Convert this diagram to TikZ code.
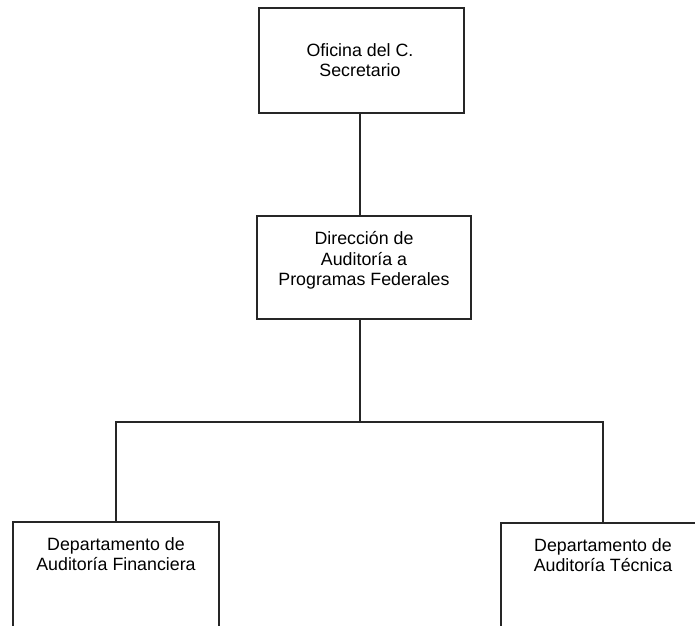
\documentclass[tikz,border=0pt]{standalone}
\usepackage{fontspec}
\setmainfont{Liberation Sans}
\usetikzlibrary{positioning}

\begin{document}
\begin{tikzpicture}[x=1pt, y=-1pt,
    unit/.style={draw=black!85, line width=1.4pt, inner sep=0pt},
    caption/.style={align=center, inner sep=0pt, anchor=north,
                    font=\fontsize{17.8}{20.8}\selectfont},
    link/.style={draw=black!85, line width=1.4pt}]
  \useasboundingbox (0,0) rectangle (695,625);
  \clip (0,0) rectangle (695,625);
  % boxes
  \node[unit, minimum width=205pt, minimum height=105pt] (sec) at (361.5,60.5) {};
  \node[unit, minimum width=214pt, minimum height=103pt] (dir) at (364,267.5) {};
  \node[unit, minimum width=206pt, minimum height=140pt] (dfin) at (116,592) {};
  \node[unit, minimum width=204pt, minimum height=140pt] (dtec) at (603,593) {};
  % texts
  \node[caption] (sec-txt) at (360,43) {Oficina del C.\\ Secretario};
  \node[caption] (dir-txt) at (364,231) {Dirección de\\ Auditoría a\\ Programas Federales};
  \node[caption] (dfin-txt) at (116,537) {Departamento de\\ Auditoría Financiera};
  \node[caption] (dtec-txt) at (603,538) {Departamento de\\ Auditoría Técnica};
  % connectors
  \coordinate (trunk) at (360,422);
  \draw[link] (sec.south -| trunk) -- (dir.north -| trunk);
  \draw[link] (dir.south -| trunk) -- (trunk);
  \draw[link] (dfin.north) |- (trunk) -| (dtec.north);
\end{tikzpicture}
\end{document}
